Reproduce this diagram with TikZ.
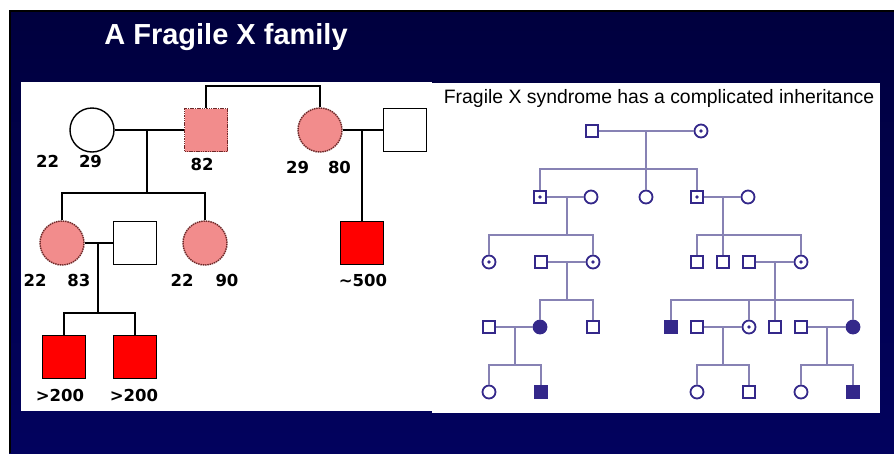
\documentclass[tikz,border=0pt]{standalone}
\usepackage{fontspec}
\setmainfont{Liberation Sans}
\newfontfamily\lblfont{DejaVu Sans}
\usetikzlibrary{positioning}
\definecolor{navy}{RGB}{2,2,94}
\definecolor{navytop}{RGB}{0,0,62}
\definecolor{pinkfx}{RGB}{242,140,140}
\definecolor{pinkrim}{RGB}{110,40,40}
\definecolor{ink}{RGB}{52,40,138}
\definecolor{kin}{RGB}{135,130,180}

\tikzset{
    female/.style={draw=black, circle, line width=1.4pt, minimum size=44pt, inner sep=0pt, fill=white},
    male/.style={draw=black, rectangle, line width=1.4pt, minimum size=43pt, inner sep=0pt, fill=white},
    premut/.style={fill=pinkfx, draw=pinkrim, dash pattern=on 1.5pt off 0.8pt},
    fullmut/.style={fill=red},
    repeats/.style={font=\lblfont\bfseries\fontsize{16.5}{18}\selectfont, inner sep=0pt},
    kinline/.style={draw=black, line width=1.8pt},
    fem/.style={draw=ink, circle, line width=1.8pt, minimum size=13pt, inner sep=0pt, fill=white},
    mal/.style={draw=ink, rectangle, line width=1.8pt, minimum size=12pt, inner sep=0pt, fill=white},
    carrier/.style={path picture={\fill[ink] (path picture bounding box.center) circle (1.8pt);}},
    hit/.style={fill=ink},
    link/.style={draw=kin, line width=1.2pt}
}

\begin{document}
\begin{tikzpicture}[x=1pt, y=-1pt]
    \useasboundingbox (0,0) rectangle (894,453);
    % slide
    \shade[top color=navytop, bottom color=navy] (9,10) rectangle (894,453);
    \draw[black, line width=1.5pt] (9.75,453) -- (9.75,10.75) -- (894,10.75);
    \fill[white] (21,82) rectangle (432,411);
    \fill[white] (432,83) rectangle (880,413);

    \node[font=\bfseries\fontsize{29}{32}\selectfont, text=white, anchor=base] (title) at (226, 44) {A Fragile X family};
    \node[font=\fontsize{19.4}{22}\selectfont, anchor=base] (subtitle) at (659, 103) {Fragile X syndrome has a complicated inheritance};

    % left pedigree
    \node[female] (gma) at (92, 130) {};
    \node[male, premut] (gpa) at (206, 130) {};
    \node[female, premut] (aunt) at (320, 130) {};
    \node[male] (unc) at (405, 130) {};
    \node[female, premut] (mom) at (62, 243) {};
    \node[male] (dad) at (135, 243) {};
    \node[female, premut] (sis) at (205, 243) {};
    \node[male, fullmut] (cous) at (362, 243) {};
    \node[male, fullmut] (son1) at (64, 357) {};
    \node[male, fullmut] (son2) at (135, 357) {};

    \coordinate (top0) at (260, 86);
    \coordinate (m1) at (147, 130);
    \coordinate (s1) at (147, 193);
    \coordinate (m2) at (98, 243);
    \coordinate (s2) at (98, 313);
    \coordinate (m3) at (362, 130);

    \draw[kinline]
    (gpa.north) |- (top0) -| (aunt.north)
    (gma.east) -- (gpa.west)
    (m1) -- (s1)
    (mom.north) |- (s1) -| (sis.north)
    (mom.east) -- (dad.west)
    (m2) -- (s2)
    (son1.north) |- (s2) -| (son2.north)
    (aunt.east) -- (unc.west)
    (m3) -- (cous.north);

    \node[repeats] (r-gma) at (69, 161) {22\hspace{20pt}29};
    \node[repeats] (r-gpa) at (202, 164) {82};
    \node[repeats] (r-aunt) at (318.5, 167) {29\hspace{19pt}80};
    \node[repeats] (r-mom) at (57, 280) {22\hspace{21pt}83};
    \node[repeats] (r-sis) at (204.5, 280) {22\hspace{22pt}90};
    \node[repeats] (r-cous) at (363, 280) {\textasciitilde500};
    \node[repeats] (r-son1) at (60, 395) {>200};
    \node[repeats] (r-son2) at (134, 395) {>200};

    % right pedigree
    \coordinate (d1) at (646, 131);
    \coordinate (s1r) at (646, 169);
    \coordinate (d2) at (567, 197);
    \coordinate (s2r) at (567, 235);
    \coordinate (d3) at (723, 197);
    \coordinate (s3r) at (723, 235);
    \coordinate (d4) at (567, 262);
    \coordinate (s4r) at (567, 300);
    \coordinate (d5) at (775, 262);
    \coordinate (s5r) at (775, 300);
    \coordinate (d6) at (515, 327);
    \coordinate (s6r) at (515, 365);
    \coordinate (d7) at (723, 327);
    \coordinate (s7r) at (723, 365);
    \coordinate (d8) at (827, 327);
    \coordinate (s8r) at (827, 365);

    \draw[link]
    (d1) -- (s1r)
    (d2) -- (s2r)
    (d3) -- (s3r)
    (d4) -- (s4r)
    (d5) -- (775, 321)
    (d6) -- (s6r)
    (d7) -- (s7r)
    (d8) -- (s8r);

    \node[mal] (a1) at (592, 131) {};
    \node[fem, carrier] (a2) at (701, 131) {};

    \node[mal, carrier] (b1) at (540, 197) {};
    \node[fem] (b2) at (591, 197) {};
    \node[fem] (b3) at (646, 197) {};
    \node[mal, carrier] (b4) at (697, 197) {};
    \node[fem] (b5) at (748, 197) {};

    \node[fem, carrier] (c1) at (489, 262) {};
    \node[mal] (c2) at (541, 262) {};
    \node[fem, carrier] (c3) at (593, 262) {};
    \node[mal] (c4) at (697, 262) {};
    \node[mal] (c5) at (723, 262) {};
    \node[mal] (c6) at (749, 262) {};
    \node[fem, carrier] (c7) at (801, 262) {};

    \node[mal] (e1) at (489, 327) {};
    \node[fem, hit] (e2) at (540, 327) {};
    \node[mal] (e3) at (593, 327) {};
    \node[mal, hit] (e4) at (671, 327) {};
    \node[mal] (e5) at (697, 327) {};
    \node[fem, carrier] (e6) at (749, 327) {};
    \node[mal] (e7) at (775, 327) {};
    \node[mal] (e8) at (801, 327) {};
    \node[fem, hit] (e9) at (853, 327) {};

    \node[fem] (f1) at (489, 392) {};
    \node[mal, hit] (f2) at (541, 392) {};
    \node[fem] (f3) at (697, 392) {};
    \node[mal] (f4) at (749, 392) {};
    \node[fem] (f5) at (801, 392) {};
    \node[mal, hit] (f6) at (853, 392) {};

    \draw[link]
    (a1.east) -- (a2.west)
    (b1.north) |- (s1r) -| (b4.north)
    (s1r) -- (b3.north)
    (b1.east) -- (b2.west)
    (c1.north) |- (s2r) -| (c3.north)
    (b4.east) -- (b5.west)
    (c4.north) |- (s3r) -| (c7.north)
    (s3r) -- (c5.north)
    (c2.east) -- (c3.west)
    (e2.north) |- (s4r) -| (e3.north)
    (c6.east) -- (c7.west)
    (e4.north) |- (s5r) -| (e9.north)
    (e6.north) -- (e6.north |- s5r)
    (s5r) -- (e7.north)
    (e1.east) -- (e2.west)
    (f1.north) |- (s6r) -| (f2.north)
    (e5.east) -- (e6.west)
    (f3.north) |- (s7r) -| (f4.north)
    (e8.east) -- (e9.west)
    (f5.north) |- (s8r) -| (f6.north);
\end{tikzpicture}
\end{document}
